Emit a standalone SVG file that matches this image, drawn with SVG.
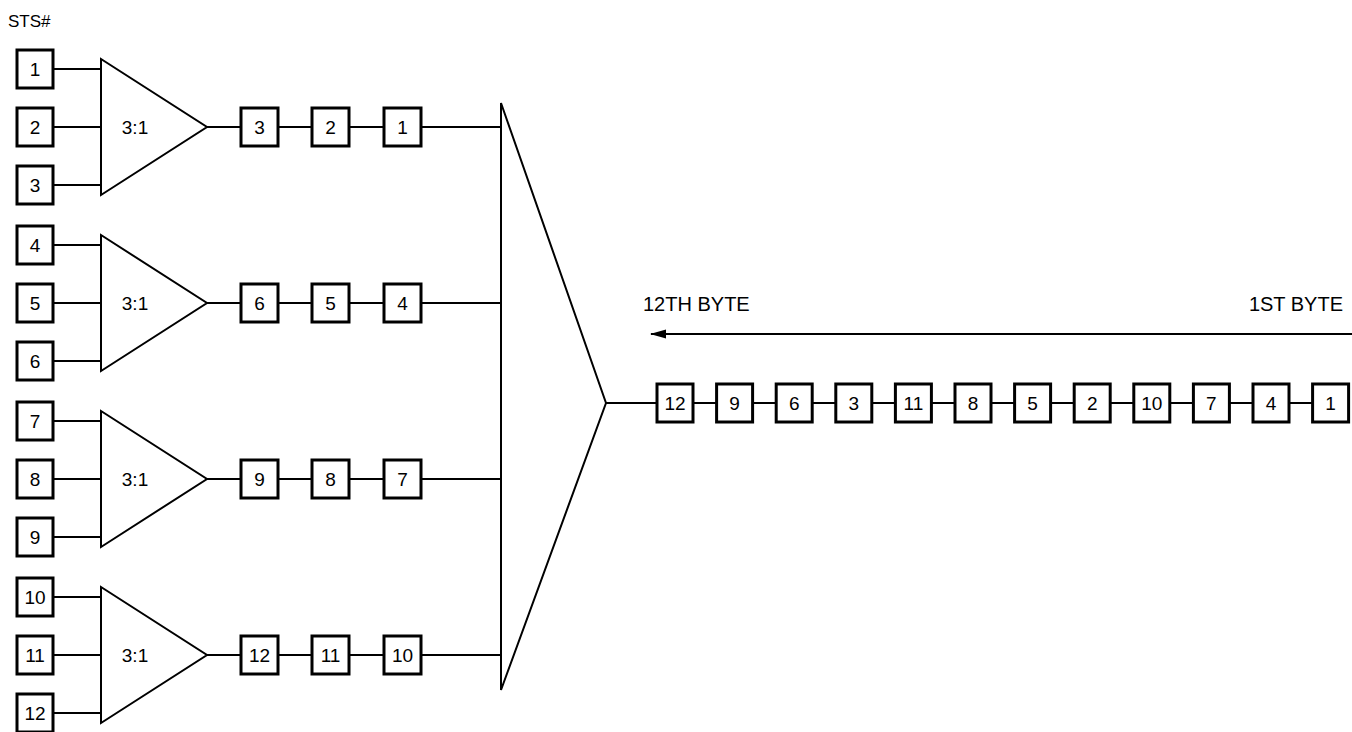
<svg xmlns="http://www.w3.org/2000/svg" width="1352" height="732" viewBox="0 0 1352 732">
<style>
.bx{fill:#fff;stroke:#000;stroke-width:3}
.ln{fill:none;stroke:#000;stroke-width:2}
.tri{fill:#fff;stroke:#000;stroke-width:2}
text{font-family:"Liberation Sans",Arial,sans-serif;font-size:19px;fill:#000}
.c{text-anchor:middle;dominant-baseline:central}
.lbl{font-size:20px}
</style>
<defs>
<marker id="ah" markerWidth="16" markerHeight="10" refX="15" refY="5" orient="auto" markerUnits="userSpaceOnUse">
<path d="M0,0.5 L16,5 L0,9.5 Z" fill="#000"/>
</marker>
</defs>
<rect width="1352" height="732" fill="#fff"/>
<text x="8" y="27" style="font-size:17px">STS#</text>
<g id="connectors">
<line class="ln" x1="53" y1="69" x2="101" y2="69"/><line class="ln" x1="53" y1="127" x2="101" y2="127"/><line class="ln" x1="53" y1="185" x2="101" y2="185"/>
<line class="ln" x1="207" y1="127" x2="501" y2="127"/>
<line class="ln" x1="53" y1="245" x2="101" y2="245"/><line class="ln" x1="53" y1="303" x2="101" y2="303"/><line class="ln" x1="53" y1="361" x2="101" y2="361"/>
<line class="ln" x1="207" y1="303" x2="501" y2="303"/>
<line class="ln" x1="53" y1="421" x2="101" y2="421"/><line class="ln" x1="53" y1="479" x2="101" y2="479"/><line class="ln" x1="53" y1="537" x2="101" y2="537"/>
<line class="ln" x1="207" y1="479" x2="501" y2="479"/>
<line class="ln" x1="53" y1="597" x2="101" y2="597"/><line class="ln" x1="53" y1="655" x2="101" y2="655"/><line class="ln" x1="53" y1="713" x2="101" y2="713"/>
<line class="ln" x1="207" y1="655" x2="501" y2="655"/>
<line class="ln" x1="606" y1="403" x2="1313" y2="403"/>
<line class="ln" x1="1352" y1="334" x2="651" y2="334" marker-end="url(#ah)"/>
</g>
<text class="lbl" x="643" y="311">12TH BYTE</text>
<text class="lbl" x="1343" y="311" text-anchor="end">1ST BYTE</text>
<!-- group 1 -->
<g id="mux1"><polygon class="tri" points="101,59 101,195 207,127"/><text class="c" x="135" y="127">3:1</text></g>
<g id="in1"><rect class="bx" x="17" y="50" width="36" height="38"/><text class="c" x="35" y="69">1</text></g>
<g id="in2"><rect class="bx" x="17" y="108" width="36" height="38"/><text class="c" x="35" y="127">2</text></g>
<g id="in3"><rect class="bx" x="17" y="166" width="36" height="38"/><text class="c" x="35" y="185">3</text></g>
<g id="c1a"><rect class="bx" x="241" y="108" width="37" height="38"/><text class="c" x="259.5" y="127">3</text></g>
<g id="c1b"><rect class="bx" x="312" y="108" width="37" height="38"/><text class="c" x="330.5" y="127">2</text></g>
<g id="c1c"><rect class="bx" x="384" y="108" width="37" height="38"/><text class="c" x="402.5" y="127">1</text></g>
<!-- group 2 -->
<g id="mux2"><polygon class="tri" points="101,235 101,371 207,303"/><text class="c" x="135" y="303">3:1</text></g>
<g id="in4"><rect class="bx" x="17" y="226" width="36" height="38"/><text class="c" x="35" y="245">4</text></g>
<g id="in5"><rect class="bx" x="17" y="284" width="36" height="38"/><text class="c" x="35" y="303">5</text></g>
<g id="in6"><rect class="bx" x="17" y="342" width="36" height="38"/><text class="c" x="35" y="361">6</text></g>
<g id="c2a"><rect class="bx" x="241" y="284" width="37" height="38"/><text class="c" x="259.5" y="303">6</text></g>
<g id="c2b"><rect class="bx" x="312" y="284" width="37" height="38"/><text class="c" x="330.5" y="303">5</text></g>
<g id="c2c"><rect class="bx" x="384" y="284" width="37" height="38"/><text class="c" x="402.5" y="303">4</text></g>
<!-- group 3 -->
<g id="mux3"><polygon class="tri" points="101,411 101,547 207,479"/><text class="c" x="135" y="479">3:1</text></g>
<g id="in7"><rect class="bx" x="17" y="402" width="36" height="38"/><text class="c" x="35" y="421">7</text></g>
<g id="in8"><rect class="bx" x="17" y="460" width="36" height="38"/><text class="c" x="35" y="479">8</text></g>
<g id="in9"><rect class="bx" x="17" y="518" width="36" height="38"/><text class="c" x="35" y="537">9</text></g>
<g id="c3a"><rect class="bx" x="241" y="460" width="37" height="38"/><text class="c" x="259.5" y="479">9</text></g>
<g id="c3b"><rect class="bx" x="312" y="460" width="37" height="38"/><text class="c" x="330.5" y="479">8</text></g>
<g id="c3c"><rect class="bx" x="384" y="460" width="37" height="38"/><text class="c" x="402.5" y="479">7</text></g>
<!-- group 4 -->
<g id="mux4"><polygon class="tri" points="101,587 101,723 207,655"/><text class="c" x="135" y="655">3:1</text></g>
<g id="in10"><rect class="bx" x="17" y="578" width="36" height="38"/><text class="c" x="35" y="597">10</text></g>
<g id="in11"><rect class="bx" x="17" y="636" width="36" height="38"/><text class="c" x="35" y="655">11</text></g>
<g id="in12"><rect class="bx" x="17" y="694" width="36" height="38"/><text class="c" x="35" y="713">12</text></g>
<g id="c4a"><rect class="bx" x="241" y="636" width="37" height="38"/><text class="c" x="259.5" y="655">12</text></g>
<g id="c4b"><rect class="bx" x="312" y="636" width="37" height="38"/><text class="c" x="330.5" y="655">11</text></g>
<g id="c4c"><rect class="bx" x="384" y="636" width="37" height="38"/><text class="c" x="402.5" y="655">10</text></g>
<!-- big mux -->
<g id="mux12"><polygon class="tri" points="501,103 501,690 606,403"/></g>
<!-- output stream -->
<g id="o1"><rect class="bx" x="657" y="384" width="36" height="38"/><text class="c" x="675" y="403">12</text></g>
<g id="o2"><rect class="bx" x="716.6" y="384" width="36" height="38"/><text class="c" x="734.6" y="403">9</text></g>
<g id="o3"><rect class="bx" x="776.2" y="384" width="36" height="38"/><text class="c" x="794.2" y="403">6</text></g>
<g id="o4"><rect class="bx" x="835.8" y="384" width="36" height="38"/><text class="c" x="853.8" y="403">3</text></g>
<g id="o5"><rect class="bx" x="895.4" y="384" width="36" height="38"/><text class="c" x="913.4" y="403">11</text></g>
<g id="o6"><rect class="bx" x="955" y="384" width="36" height="38"/><text class="c" x="973" y="403">8</text></g>
<g id="o7"><rect class="bx" x="1014.6" y="384" width="36" height="38"/><text class="c" x="1032.6" y="403">5</text></g>
<g id="o8"><rect class="bx" x="1074.2" y="384" width="36" height="38"/><text class="c" x="1092.2" y="403">2</text></g>
<g id="o9"><rect class="bx" x="1133.8" y="384" width="36" height="38"/><text class="c" x="1151.8" y="403">10</text></g>
<g id="o10"><rect class="bx" x="1193.4" y="384" width="36" height="38"/><text class="c" x="1211.4" y="403">7</text></g>
<g id="o11"><rect class="bx" x="1253" y="384" width="36" height="38"/><text class="c" x="1271" y="403">4</text></g>
<g id="o12"><rect class="bx" x="1312.6" y="384" width="36" height="38"/><text class="c" x="1330.6" y="403">1</text></g>
</svg>
